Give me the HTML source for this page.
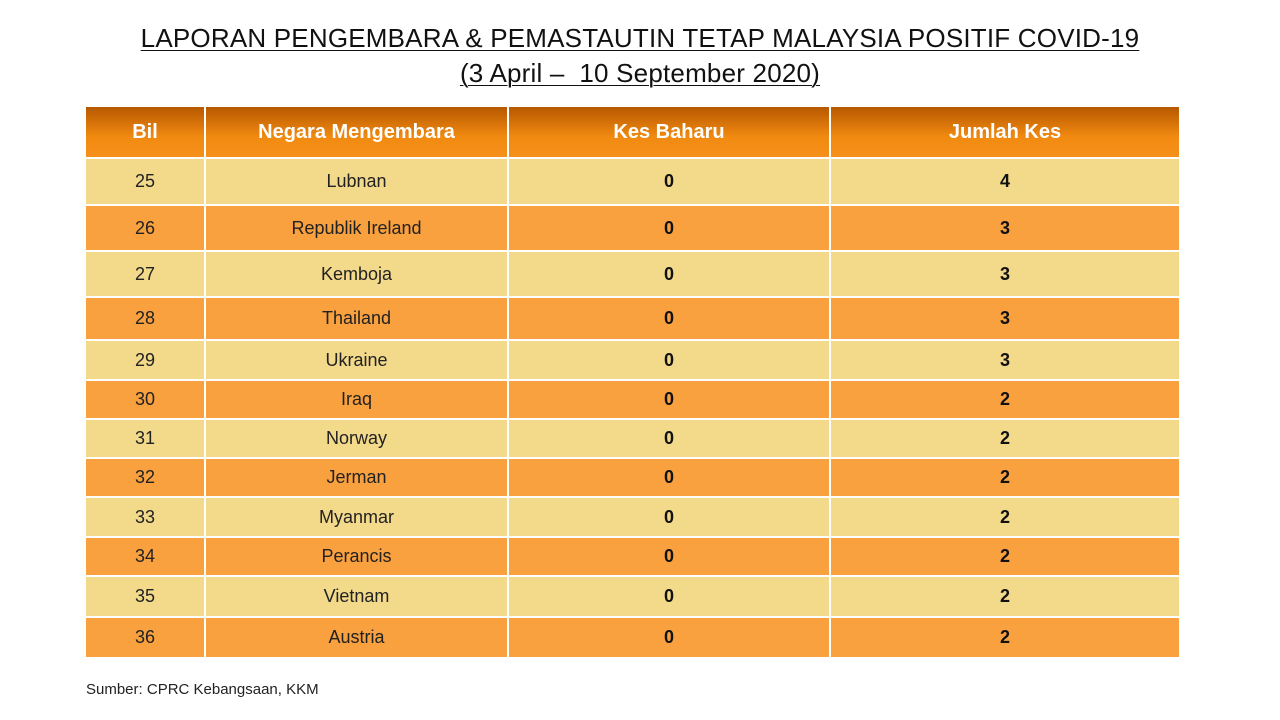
<!DOCTYPE html>
<html><head><meta charset="utf-8"><style>
body{margin:0;width:1280px;height:720px;background:#fff;font-family:"Liberation Sans",sans-serif;position:relative;overflow:hidden}
.t{position:absolute;left:0;width:1280px;text-align:center;font-size:26px;color:#111;text-decoration:underline;text-decoration-thickness:1px;text-underline-offset:3px;letter-spacing:0.2px}
table{position:absolute;left:84px;top:105px;border-collapse:collapse;table-layout:fixed}
td,th{border:2px solid #fff;text-align:center;padding:0;font-size:18px;color:#222}
th{height:50px;color:#fff;font-size:20px;background:linear-gradient(#b65800,#f28a10 60%,#f5901a)}
tr.a td{background:#f3d98a}
tr.b td{background:#f9a03f}
td.n{font-weight:bold;color:#111}
.s{position:absolute;left:86px;top:681px;font-size:15px;color:#222}
</style></head><body>
<div class="t" style="top:23px">LAPORAN PENGEMBARA &amp; PEMASTAUTIN TETAP MALAYSIA POSITIF COVID-19</div>
<div class="t" style="top:58px">(3 April –&nbsp; 10 September 2020)</div>
<table>
<colgroup><col style="width:120px"><col style="width:303px"><col style="width:322px"><col style="width:350px"></colgroup>
<tr><th>Bil</th><th>Negara Mengembara</th><th>Kes Baharu</th><th>Jumlah Kes</th></tr>
<tr class="a" style="height:47px"><td>25</td><td>Lubnan</td><td class="n">0</td><td class="n">4</td></tr>
<tr class="b" style="height:46px"><td>26</td><td>Republik Ireland</td><td class="n">0</td><td class="n">3</td></tr>
<tr class="a" style="height:46px"><td>27</td><td>Kemboja</td><td class="n">0</td><td class="n">3</td></tr>
<tr class="b" style="height:43px"><td>28</td><td>Thailand</td><td class="n">0</td><td class="n">3</td></tr>
<tr class="a" style="height:40px"><td>29</td><td>Ukraine</td><td class="n">0</td><td class="n">3</td></tr>
<tr class="b" style="height:39px"><td>30</td><td>Iraq</td><td class="n">0</td><td class="n">2</td></tr>
<tr class="a" style="height:39px"><td>31</td><td>Norway</td><td class="n">0</td><td class="n">2</td></tr>
<tr class="b" style="height:39px"><td>32</td><td>Jerman</td><td class="n">0</td><td class="n">2</td></tr>
<tr class="a" style="height:40px"><td>33</td><td>Myanmar</td><td class="n">0</td><td class="n">2</td></tr>
<tr class="b" style="height:39px"><td>34</td><td>Perancis</td><td class="n">0</td><td class="n">2</td></tr>
<tr class="a" style="height:41px"><td>35</td><td>Vietnam</td><td class="n">0</td><td class="n">2</td></tr>
<tr class="b" style="height:41px"><td>36</td><td>Austria</td><td class="n">0</td><td class="n">2</td></tr>
</table>
<div class="s">Sumber: CPRC Kebangsaan, KKM</div>
</body></html>
